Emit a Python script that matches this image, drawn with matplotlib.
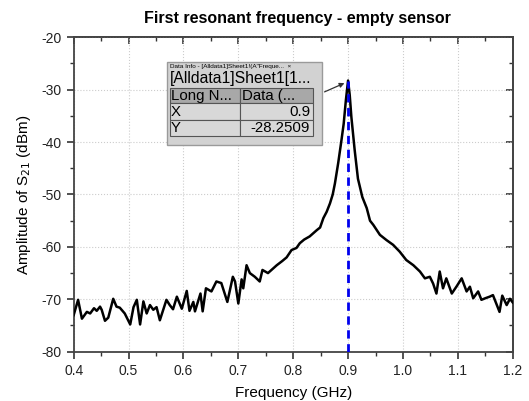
import matplotlib
matplotlib.use("Agg")
import matplotlib.pyplot as plt
from matplotlib.patches import Rectangle, FancyArrowPatch
from matplotlib.ticker import MultipleLocator

plt.rcParams['font.family'] = ['Liberation Sans', 'DejaVu Sans']
plt.rcParams['axes.unicode_minus'] = False

# data
freq = [0.400, 0.408, 0.415, 0.424, 0.430, 0.437, 0.442, 0.448, 0.451, 0.457,
        0.463, 0.472, 0.478, 0.484, 0.493, 0.503, 0.509, 0.515, 0.521, 0.527,
        0.533, 0.539, 0.545, 0.551, 0.557, 0.569, 0.575, 0.581, 0.588, 0.597,
        0.606, 0.611, 0.618, 0.621, 0.631, 0.635, 0.641, 0.651, 0.660, 0.669,
        0.680, 0.690, 0.694, 0.700, 0.706, 0.709, 0.715, 0.721, 0.730, 0.739,
        0.744, 0.754, 0.770, 0.780, 0.788, 0.797, 0.806, 0.812, 0.820, 0.830,
        0.843, 0.849, 0.855, 0.861, 0.867, 0.872, 0.876, 0.882, 0.888, 0.892,
        0.896, 0.900, 0.903, 0.906, 0.912, 0.918, 0.921, 0.926, 0.934, 0.940,
        0.946, 0.958, 0.970, 0.982, 0.994, 1.006, 1.019, 1.031, 1.040, 1.049,
        1.055, 1.061, 1.067, 1.073, 1.079, 1.089, 1.098, 1.107, 1.116, 1.122,
        1.128, 1.137, 1.143, 1.150, 1.158, 1.164, 1.176, 1.181, 1.189, 1.195,
        1.200]
amp = [-73.0, -70.1, -73.7, -72.4, -72.7, -71.7, -72.2, -71.4, -72.0, -74.1,
       -73.5, -69.9, -71.4, -71.6, -72.7, -74.8, -71.5, -70.1, -74.8, -70.4,
       -72.7, -71.1, -72.0, -71.5, -74.0, -70.1, -71.1, -71.9, -69.5, -71.8,
       -68.4, -72.2, -70.5, -72.3, -68.9, -72.3, -67.9, -68.5, -66.6, -66.9,
       -70.5, -65.7, -66.6, -70.8, -66.2, -67.9, -63.5, -65.0, -65.7, -66.6,
       -64.4, -65.0, -63.5, -62.7, -62.0, -60.6, -60.2, -59.3, -58.6, -58.0,
       -56.8, -56.3, -54.5, -53.3, -51.7, -50.0, -47.9, -44.0, -39.6, -36.5,
       -32.0, -28.25, -31.0, -35.2, -41.5, -47.0, -48.3, -50.5, -52.6, -55.0,
       -55.8, -57.7, -58.7, -59.6, -60.9, -62.5, -63.5, -64.7, -66.0, -65.7,
       -67.0, -68.9, -64.7, -67.9, -66.0, -68.9, -67.5, -66.0, -68.5, -67.6,
       -69.8, -68.5, -70.1, -69.8, -69.5, -69.2, -72.4, -69.3, -71.1, -69.9,
       -70.6]

peak_x = 0.9
peak_y = -28.2509
xticks = [0.4, 0.5, 0.6, 0.7, 0.8, 0.9, 1.0, 1.1, 1.2]
xticklabels = ['0.4', '0.5', '0.6', '0.7', '0.8', '0.9', '1.0', '1.1', '1.2']
yticks = [-80, -70, -60, -50, -40, -30, -20]

W, H = 529, 401
fig = plt.figure(figsize=(W / 100, H / 100), dpi=100)
ax = fig.add_axes([73.7 / W, 1 - 351.7 / H, (512.7 - 73.7) / W, (351.7 - 37.3) / H])

ax.plot(freq, amp, color='black', lw=1.8, zorder=3)
ax.plot([peak_x, peak_x], [-80, peak_y], color='#0000ee', lw=2, ls=(0, (3, 2)), zorder=4)

ax.set_xlim(0.4, 1.2)
ax.set_ylim(-80, -20)
ax.set_xticks(xticks)
ax.set_xticklabels(xticklabels)
ax.set_yticks(yticks)
ax.xaxis.set_minor_locator(MultipleLocator(0.05))
ax.yaxis.set_minor_locator(MultipleLocator(5))
ax.tick_params(which='both', direction='out', labelsize=10, colors='#333333',
               labelcolor='#222222')
ax.tick_params(which='major', length=5, width=1.2)
ax.tick_params(which='minor', length=3, width=1.0)
ax.grid(True, which='major', color='#cccccc', ls=':', lw=0.8)
for s in ax.spines.values():
    s.set_linewidth(1.3)
    s.set_color('#444444')

# mirrored ticks on top / right point inward
top = ax.secondary_xaxis('top')
top.set_xticks(xticks)
top.xaxis.set_minor_locator(MultipleLocator(0.05))
right = ax.secondary_yaxis('right')
right.set_yticks(yticks)
right.yaxis.set_minor_locator(MultipleLocator(5))
for sec in (top, right):
    sec.tick_params(which='both', direction='in', colors='#333333',
                    labelleft=False, labelright=False, labeltop=False, labelbottom=False)
    sec.tick_params(which='major', length=5, width=1.2)
    sec.tick_params(which='minor', length=3, width=1.0)
    for s in sec.spines.values():
        s.set_linewidth(1.3)
        s.set_color('#444444')

ax.set_xlabel('Frequency (GHz)', fontsize=11, labelpad=6)
ax.set_ylabel('Amplitude of S$_{21}$ (dBm)', fontsize=11, labelpad=6)
fig.text(297 / W, 1 - 18 / H, 'First resonant frequency - empty sensor',
         ha='center', va='center', fontsize=11.5, fontweight='bold')


# Data Info popup (pixel positions of the reference)
def fp(x, y):
    return (x / W, 1 - y / H)


def box(x0, y0, x1, y1, fc, ec='#555555', lw=0.8):
    r = Rectangle(fp(x0, y1), (x1 - x0) / W, (y1 - y0) / H, transform=fig.transFigure,
                  facecolor=fc, edgecolor=ec, lw=lw, zorder=10)
    fig.patches.append(r)


box(167, 62, 322, 145, '#d2d2d2', ec='#9a9a9a', lw=1.0)
fig.text(170 / W, 1 - 66.5 / H, 'Data Info - [Alldata1]Sheet1!(A"Freque...  \u00d7',
         fontsize=4.6, va='center', ha='left', zorder=11)
fig.text(170 / W, 1 - 79 / H, '[Alldata1]Sheet1[1...', fontsize=11.3,
         va='center', ha='left', zorder=11)
box(170, 88, 240, 103, '#a8a8a8')
box(240, 88, 313, 103, '#a8a8a8')
box(170, 103, 240, 120, '#d8d8d8')
box(240, 103, 313, 120, '#d8d8d8')
box(170, 120, 240, 136, '#d8d8d8')
box(240, 120, 313, 136, '#d8d8d8')
fig.text(171 / W, 1 - 96 / H, 'Long N...', fontsize=10.8, va='center', ha='left', zorder=11)
fig.text(242 / W, 1 - 96 / H, 'Data (...', fontsize=10.8, va='center', ha='left', zorder=11)
fig.text(171 / W, 1 - 112 / H, 'X', fontsize=10.8, va='center', ha='left', zorder=11)
fig.text(310 / W, 1 - 112 / H, f'{peak_x:g}', fontsize=10.8, va='center', ha='right', zorder=11)
fig.text(171 / W, 1 - 128 / H, 'Y', fontsize=10.8, va='center', ha='left', zorder=11)
fig.text(310 / W, 1 - 128 / H, f'{peak_y:g}', fontsize=10.8, va='center', ha='right', zorder=11)

arr = FancyArrowPatch(fp(322, 93), fp(347, 82), transform=fig.transFigure,
                      arrowstyle='-|>', mutation_scale=7, color='#333333', lw=0.9, zorder=12)
fig.patches.append(arr)

fig.savefig('out.png', dpi=100)
